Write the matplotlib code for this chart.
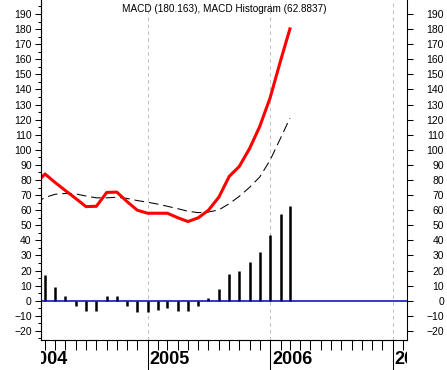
import datetime as dt

import matplotlib
matplotlib.use("Agg")
from matplotlib import pyplot as plt
import matplotlib.dates as mdates
from matplotlib.transforms import Bbox, TransformedBbox

plt.rcParams['font.family'] = ['Liberation Sans', 'DejaVu Sans']
plt.rcParams['lines.scale_dashes'] = False

# monthly data, Feb 2004 .. Mar 2006
months = ['2004-02', '2004-03', '2004-04', '2004-05', '2004-06', '2004-07',
          '2004-08', '2004-09', '2004-10', '2004-11', '2004-12', '2005-01',
          '2005-02', '2005-03', '2005-04', '2005-05', '2005-06', '2005-07',
          '2005-08', '2005-09', '2005-10', '2005-11', '2005-12', '2006-01',
          '2006-02', '2006-03']
macd = [77.5, 84, 78.2, 73, 67.7, 62.4, 62.6, 71.8, 72, 65.6, 60, 58,
        58, 58, 55, 52.5, 55, 60, 68.6, 82.4, 89, 101, 115.5, 134.5,
        159, 180.163]
signal = [64.5, 68.5, 70.6, 71.1, 70.8, 69.4, 68.2, 68.2, 68.6, 67.8, 66.4, 65.3,
          64.0, 62.6, 61.0, 59.3, 58.4, 58.8, 60.2, 64.3, 69.2, 75.2, 82, 93.2,
          107.7, 121]
# histogram starts at Mar 2004
hist = [17.4, 8.8, 2.9, -3.3, -7.0, -7.0, 2.9, 3.3, -3.7, -7.7, -7.7,
        -6.4, -5.1, -7.0, -7.0, -3.7, 1.8, 7.5, 17.6, 20.0, 26.0, 32.2,
        43.6, 57.3, 62.8837]
year_labels = ['2004', '2005', '2006', '2007']
title = 'MACD (180.163), MACD Histogram (62.8837)'


def main():
    dates = [dt.datetime.strptime(m + '-01', '%Y-%m-%d') for m in months]
    years = [dt.datetime(int(y), 1, 1) for y in year_labels]

    fig = plt.figure(figsize=(4.47, 3.70), dpi=100)
    ax = fig.add_axes([41 / 447, 30 / 370, 366 / 447, 340 / 370])

    ax.set_xlim(dt.datetime(2004, 2, 18), dt.datetime(2007, 2, 13))
    ax.set_ylim(-26, 199.3)

    # year separators
    for y in years[1:]:
        ax.axvline(y, color='#c0c0c0', lw=0.75, dashes=(2.5, 2.5), zorder=1)

    ax.vlines(dates[1:], 0, hist, color='black', lw=1.8, zorder=2)
    ax.axhline(0, color='#0000cc', lw=1.1, zorder=3)
    ax.plot(dates, signal, color='black', lw=0.75, dashes=(7, 3.5), zorder=4)
    ax.plot(dates, macd, color='#ff0000', lw=2.2, zorder=5)

    ax.text(0.5, 1 - 9 / 340, title, transform=ax.transAxes,
            ha='center', va='center', fontsize=7.2)

    # axes frame
    ax.spines['top'].set_visible(False)
    for s in ['left', 'right', 'bottom']:
        ax.spines[s].set_linewidth(0.75)

    # y axis: ticks both sides
    ax.set_yticks(range(-20, 191, 10))
    ax.set_yticks(range(-25, 200, 10), minor=True)
    ax.tick_params(axis='y', which='major', direction='out', length=4.3,
                   width=0.75, labelsize=7.5, pad=2.4, right=True)
    ax.tick_params(axis='y', which='minor', direction='out', length=2.2,
                   width=0.75, right=True)

    ax2 = ax.twinx()
    ax2.set_ylim(ax.get_ylim())
    ax2.set_yticks(range(-20, 191, 10))
    ax2.spines['top'].set_visible(False)
    ax2.spines['right'].set_linewidth(0.75)
    ax2.tick_params(axis='y', which='major', direction='out', length=4.3,
                    width=0.75, labelsize=7.5, pad=22.3)
    ax2.tick_params(axis='y', which='minor', length=0)
    for lbl in ax2.get_yticklabels():
        lbl.set_horizontalalignment('right')

    # x axis: year ticks long, month ticks short
    ax.xaxis.set_major_locator(mdates.YearLocator())
    ax.xaxis.set_minor_locator(mdates.MonthLocator())
    ax.xaxis.set_major_formatter(plt.NullFormatter())
    ax.tick_params(axis='x', which='major', direction='out', length=21.6,
                   width=0.75)
    ax.tick_params(axis='x', which='minor', direction='out', length=7.2,
                   width=0.75)

    clip = TransformedBbox(Bbox([[0, -1], [1, 1]]), ax.transAxes)
    for y, lab in zip(years, year_labels):
        x = mdates.date2num(y) + 6
        t = ax.text(x, -20 / 340, lab, transform=ax.get_xaxis_transform(),
                    ha='left', va='center', fontsize=13, fontweight='bold',
                    clip_on=True)
        t.set_clip_box(clip)

    fig.savefig('out.png', dpi=100, facecolor='white')


if __name__ == "__main__":
    main()
